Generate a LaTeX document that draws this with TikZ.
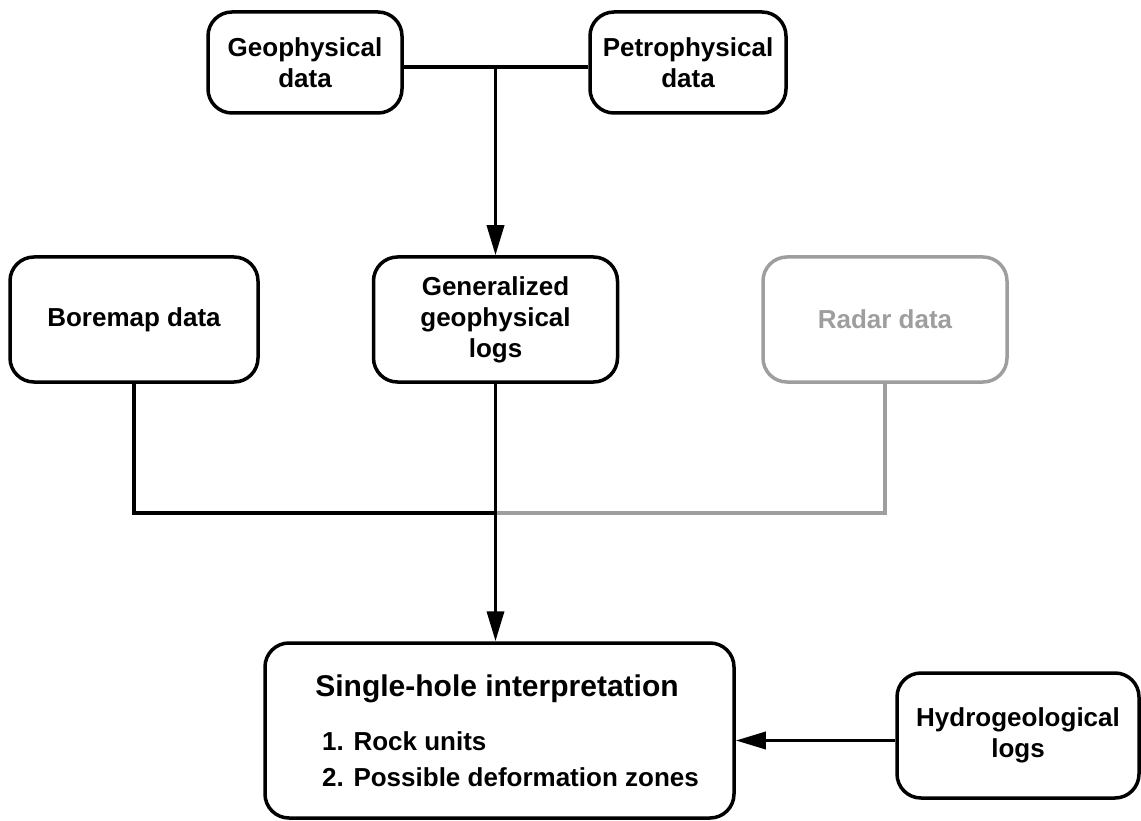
\documentclass[tikz,border=0pt]{standalone}
\usepackage{fontspec}
\setmainfont{Liberation Sans}
\usetikzlibrary{arrows.meta}
\definecolor{radargray}{RGB}{158,158,158}
\begin{document}
\begin{tikzpicture}[x=1pt,y=-1pt,
  box/.style={draw, line width=3.5pt, rounded corners=24pt, align=center,
    font=\fontsize{26}{31}\selectfont\bfseries, inner sep=0pt},
  txt/.style={inner sep=0pt, font=\fontsize{26}{31}\selectfont\bfseries},
  conn/.style={line width=3.5pt},
  arr/.style={conn, -{Triangle[length=30pt,width=17pt]}},
]
\useasboundingbox (0,0) rectangle (1141,821);
% boxes
\node[box, minimum width=194pt, minimum height=101pt] (geo) at (305,62.5) {Geophysical\\data};
\node[box, minimum width=196pt, minimum height=101pt] (petro) at (688,62.5) {Petrophysical\\data};
\node[box, minimum width=248pt, minimum height=125pt] (bore) at (134,319.5) {Boremap data};
\node[box, minimum width=244pt, minimum height=125pt] (gen) at (495.5,319.5) {Generalized\\geophysical\\logs};
\node[box, draw=radargray, text=radargray, minimum width=244pt, minimum height=125pt] (radar) at (885,319.5) {Radar data};
\node[box, minimum width=469pt, minimum height=175pt] (single) at (499.5,730.5) {};
\node[box, minimum width=242pt, minimum height=125pt] (hydro) at (1018,735.5) {Hydrogeological\\logs};
% texts inside the interpretation box
\node[txt, font=\fontsize{30}{36}\selectfont\bfseries] (title) at (497,689) {Single-hole interpretation};
\node[txt, anchor=west] (item1) at (322,741) {1. Rock units};
\node[txt, anchor=west] (item2) at (322,777) {2. Possible deformation zones};
% junctions
\coordinate (j1) at (495.5,67);
\coordinate (j2) at (495.5,513);
% connectors
\draw[conn] (geo.east |- j1) -- (petro.west |- j1);
\draw[arr] (j1) -- (j1 |- gen.north);
\draw[conn, draw=radargray] (radar.south) |- (j2);
\draw[conn] (bore.south) |- (j2);
\draw[arr] (gen.south) -- (gen.south |- single.north);
\coordinate (h) at ([yshift=-5pt]hydro.west);
\draw[arr] (h) -- (h -| single.east);
\end{tikzpicture}
\end{document}
